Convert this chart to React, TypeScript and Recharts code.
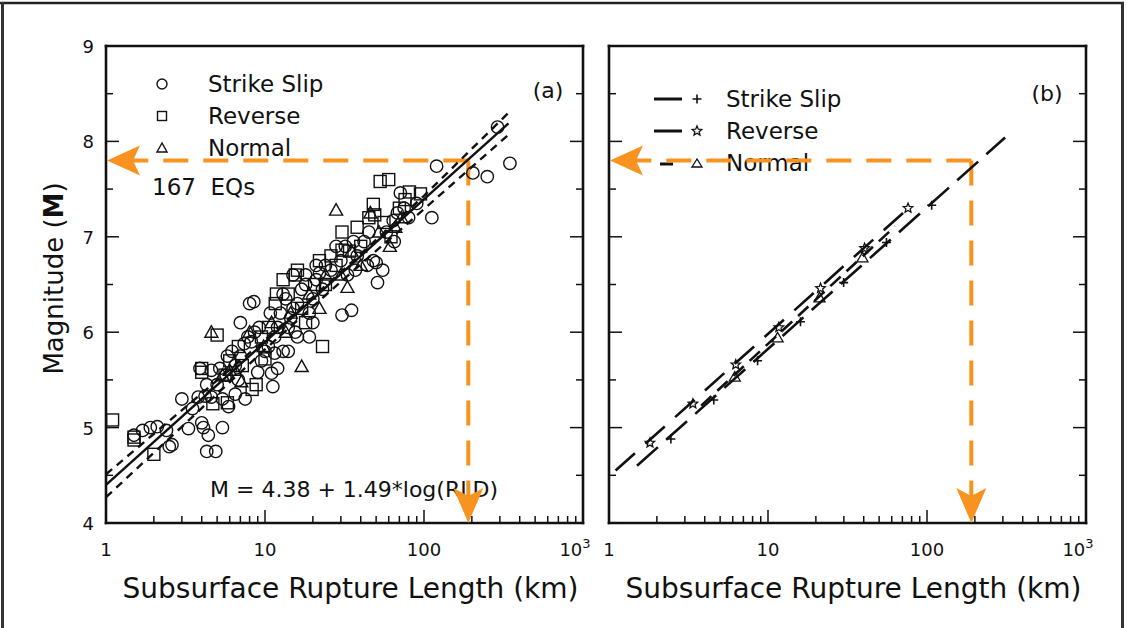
import React from "react";
import { ReferenceDot, ReferenceLine, Scatter, ScatterChart, XAxis, YAxis } from "recharts";

const FONT = "DejaVu Sans";
const INK = "#111";
const ORANGE = "#F7931E";

const xTicks = [
  1, 2, 3, 4, 5, 6, 7, 8, 9, 10, 20, 30, 40, 50, 60, 70, 80, 90, 100, 200, 300, 400, 500, 600,
  700, 800, 900, 1000,
];
const xMajor = [1, 10, 100, 1000];
const yTicks = [4, 4.5, 5, 5.5, 6, 6.5, 7, 7.5, 8, 8.5, 9];
const yMajor = [4, 5, 6, 7, 8, 9];

// panel (a): [rupture length km, magnitude]
const strikeSlip: [number, number][] = [
  [1.5, 4.92], [1.7, 4.97], [1.9, 5.0], [2.1, 5.01], [2.4, 4.97], [2.5, 4.8], [2.6, 4.82],
  [3.0, 5.3], [3.3, 4.99], [3.5, 5.2], [3.8, 5.32], [4.0, 5.05], [4.1, 5.0], [4.4, 4.92],
  [4.3, 4.75], [4.9, 4.75], [5.4, 5.0], [4.2, 5.33], [4.6, 5.32], [5.4, 5.3], [5.9, 5.22],
  [3.9, 5.62], [4.6, 5.6], [5.2, 5.62], [5.7, 5.55], [4.3, 5.45], [5.0, 5.45], [5.8, 5.75],
  [6.2, 5.8], [6.5, 5.65], [7.0, 5.75], [7.4, 5.88], [7.8, 5.95], [8.2, 5.9], [8.6, 6.0],
  [9.0, 5.58], [9.5, 5.7], [10, 5.8], [10.5, 5.85], [11, 5.57], [11.2, 5.43], [11.5, 5.95],
  [12, 6.05], [8.0, 6.3], [8.5, 6.32], [7.0, 6.1], [6.5, 5.35], [7.5, 5.3], [6.8, 5.5],
  [9.2, 6.05], [10.8, 6.2], [11.5, 5.78], [12, 5.62], [12.5, 6.2], [13, 6.4], [13.5, 6.35],
  [14, 6.05], [14.5, 6.15], [15, 6.25], [15.5, 6.0], [16, 6.3], [17, 6.45], [18, 6.5],
  [19, 6.2], [20, 6.35], [21, 6.55], [22, 6.62], [23, 6.45], [13, 5.8], [14, 5.8], [16, 5.95],
  [19, 5.95], [20, 6.1], [24, 6.7], [18, 6.6], [21, 6.7], [15, 6.6], [26, 6.65], [28, 6.9],
  [30, 6.75], [30.5, 6.18], [32, 6.9], [35, 6.23], [36, 6.95], [38, 6.8], [42, 6.95],
  [45, 7.05], [48, 6.75], [50, 6.73], [51, 6.52], [55, 6.65], [33, 6.6], [37, 6.65],
  [44, 6.7], [58, 7.05], [64, 7.17], [68, 7.25], [71, 7.46], [75, 7.3], [80, 7.2], [112, 7.2],
  [120, 7.74], [65, 6.95], [90, 7.35], [203, 7.67], [250, 7.63], [347, 7.77], [290, 8.15],
];
const reverse: [number, number][] = [
  [1.1, 5.08], [1.5, 4.87], [1.5, 4.9], [2.0, 4.72], [4.0, 5.62], [4.0, 5.58], [5.0, 5.97],
  [5.6, 5.55], [5.8, 5.26], [4.7, 5.25], [6.8, 5.85], [8.3, 5.4], [8.8, 5.45], [9.5, 5.95],
  [10.5, 6.05], [11.6, 6.3], [11.8, 6.4], [6.0, 5.7], [7.2, 5.65], [10, 5.72], [13, 6.55],
  [14, 6.4], [15.5, 6.6], [17, 6.25], [18, 6.1], [20.5, 6.5], [23, 5.85], [22, 6.75],
  [16, 6.65], [24, 6.5], [26, 6.8], [30.5, 7.05], [30.5, 6.86], [34, 6.85], [38, 7.1],
  [48, 7.34], [49, 7.23], [53, 7.58], [45, 7.2], [40, 6.9], [56, 7.15], [28, 6.7], [60, 7.6],
  [76, 7.39], [81, 7.47], [70, 7.3], [95, 7.45], [62, 7.0],
];
const normal: [number, number][] = [
  [4.6, 6.0], [5.4, 5.55], [6.0, 5.6], [7.1, 5.48], [8.0, 6.0], [9.8, 5.85], [11, 6.1],
  [6.5, 5.6], [17, 5.64], [14.5, 6.2], [19, 6.4], [22, 6.25], [24, 6.6], [13.5, 6.0],
  [28, 7.28], [33, 6.47], [35, 6.85], [40, 6.7], [46, 7.25], [52, 7.05], [30, 6.6], [61, 6.9],
  [66, 7.1], [72, 7.2],
];
const fitAll: [number, number][] = [[1, 4.4], [340, 8.19]];
const fitUpper: [number, number][] = [[1, 4.51], [10, 5.92], [30, 6.63], [100, 7.43], [340, 8.3]];
const fitLower: [number, number][] = [[1, 4.27], [10, 5.82], [30, 6.53], [100, 7.29], [340, 8.07]];

// panel (b)
const ssLine: [number, number][] = [[1.5, 4.6], [310, 8.04]];
const rvLine: [number, number][] = [[1.1, 4.55], [80, 7.33]];
const nmLine: [number, number][] = [[3.8, 5.23], [63, 7.11]];
const ssMarks: [number, number][] = [
  [2.45, 4.88], [4.56, 5.29], [8.6, 5.7], [16, 6.11], [29.9, 6.52], [55.6, 6.94], [107, 7.33],
];
const rvMarks: [number, number][] = [
  [1.81, 4.84], [3.37, 5.25], [6.27, 5.66], [11.7, 6.05], [21.4, 6.46], [40.5, 6.88], [76, 7.3],
];
const nmMarks: [number, number][] = [[6.18, 5.53], [11.5, 5.94], [21.1, 6.36], [39.3, 6.78]];

const targetLength = 190;
const targetMag = 7.8;

const pts = (arr: [number, number][]) => arr.map(([l, m]) => ({ l, m }));

const circleShape = (p: any) => (
  <circle cx={p.cx} cy={p.cy} r={6.2} fill="none" stroke={INK} strokeWidth={1.4} />
);
const squareShape = (p: any) => (
  <rect x={p.cx - 6} y={p.cy - 6} width={12} height={12} fill="none" stroke={INK} strokeWidth={1.4} />
);
const triangleShape = (p: any) => (
  <polygon
    points={`${p.cx},${p.cy - 6.5} ${p.cx - 6.5},${p.cy + 5} ${p.cx + 6.5},${p.cy + 5}`}
    fill="none"
    stroke={INK}
    strokeWidth={1.4}
  />
);
const plusShape = (p: any) => (
  <path d={`M${p.cx - 4.5},${p.cy}H${p.cx + 4.5}M${p.cx},${p.cy - 4.5}V${p.cy + 4.5}`} stroke={INK} strokeWidth={1.6} />
);
function starPoints(cx: number, cy: number, r: number) {
  const out: string[] = [];
  for (let i = 0; i < 10; i++) {
    const rr = i % 2 === 0 ? r : r * 0.45;
    const a = -Math.PI / 2 + (i * Math.PI) / 5;
    out.push(`${cx + rr * Math.cos(a)},${cy + rr * Math.sin(a)}`);
  }
  return out.join(" ");
}
const starShape = (p: any) => (
  <polygon points={starPoints(p.cx, p.cy, 5)} fill="none" stroke={INK} strokeWidth={1.3} />
);
const smallTriangle = (p: any) => (
  <polygon
    points={`${p.cx},${p.cy - 5.5} ${p.cx - 5.5},${p.cy + 4} ${p.cx + 5.5},${p.cy + 4}`}
    fill="none"
    stroke={INK}
    strokeWidth={1.3}
  />
);
const noShape = () => <g />;

const leftArrow = (p: any) => (
  <polygon
    points={`${p.cx + 1},${p.cy} ${p.cx + 34},${p.cy - 15} ${p.cx + 27},${p.cy} ${p.cx + 34},${p.cy + 15}`}
    fill={ORANGE}
  />
);
const downArrow = (p: any) => (
  <polygon
    points={`${p.cx},${p.cy} ${p.cx - 15},${p.cy - 35} ${p.cx},${p.cy - 27} ${p.cx + 15},${p.cy - 35}`}
    fill={ORANGE}
  />
);

type Side = "bottom" | "top" | "left" | "right";

const tickMark = (side: Side, labels: boolean, major: number[]) => (props: any) => {
  const { x, y, payload } = props;
  const v = Number(payload.value);
  const isMajor = major.some((m) => Math.abs(m - v) < 1e-9);
  const len = isMajor ? 13 : 7;
  const dx = side === "left" ? len : side === "right" ? -len : 0;
  const dy = side === "bottom" ? -len : side === "top" ? len : 0;
  let label: React.ReactNode = null;
  if (labels && isMajor && side === "bottom") {
    label =
      v === 1000 ? (
        <text x={x - 8} y={y + 33} textAnchor="middle" fontFamily={FONT} fontSize={18} fill={INK}>
          10
          <tspan dy={-8} fontSize={13}>
            3
          </tspan>
        </text>
      ) : (
        <text x={x} y={y + 33} textAnchor="middle" fontFamily={FONT} fontSize={18} fill={INK}>
          {v}
        </text>
      );
  }
  if (labels && isMajor && side === "left") {
    label = (
      <text x={x - 12} y={y + 7} textAnchor="end" fontFamily={FONT} fontSize={18} fill={INK}>
        {v}
      </text>
    );
  }
  return (
    <g>
      <line x1={x} y1={y} x2={x + dx} y2={y + dy} stroke={INK} strokeWidth={1.5} />
      {label}
    </g>
  );
};

const axisLine = { stroke: INK, strokeWidth: 2.6, strokeLinecap: "square" as const };

function Panel({ left, isA }: { left: number; isA: boolean }) {
  return (
    <div style={{ position: "absolute", left, top: 0 }}>
      <ScatterChart width={590} height={628} margin={{ top: 45, right: 6, bottom: 65, left: 66 }}>
        <XAxis
          dataKey="l"
          type="number"
          scale="log"
          domain={[1, 1000]}
          allowDataOverflow
          ticks={xTicks}
          interval={0}
          tickSize={0}
          tickMargin={0}
          height={40}
          tickLine={false}
          axisLine={axisLine}
          tick={tickMark("bottom", true, xMajor)}
          label={{
            content: (lp: any) => {
              const vb = lp.viewBox || {};
              return (
                <text
                  x={vb.x + vb.width / 2 + 6}
                  y={vb.y + 75}
                  textAnchor="middle"
                  fontFamily={FONT}
                  fontSize={28}
                  fill={INK}
                >
                  Subsurface Rupture Length (km)
                </text>
              );
            },
          }}
        />
        <XAxis
          xAxisId="top"
          orientation="top"
          type="number"
          scale="log"
          domain={[1, 1000]}
          allowDataOverflow
          ticks={xTicks}
          interval={0}
          tickSize={0}
          tickMargin={0}
          height={1}
          tickLine={false}
          axisLine={axisLine}
          tick={tickMark("top", false, xMajor)}
        />
        <YAxis
          dataKey="m"
          type="number"
          domain={[4, 9]}
          allowDataOverflow
          ticks={yTicks}
          interval={0}
          tickSize={0}
          tickMargin={0}
          width={40}
          tickLine={false}
          axisLine={axisLine}
          tick={tickMark("left", isA, yMajor)}
          label={
            isA
              ? {
                  content: (lp: any) => {
                    const vb = lp.viewBox || {};
                    const cy = vb.y + vb.height / 2 - 6;
                    return (
                      <text
                        transform={`translate(${vb.x - 3},${cy}) rotate(-90)`}
                        textAnchor="middle"
                        fontFamily={FONT}
                        fontSize={26}
                        fill={INK}
                      >
                        Magnitude (<tspan fontWeight="bold">M</tspan>)
                      </text>
                    );
                  },
                }
              : undefined
          }
        />
        <YAxis
          yAxisId="right"
          orientation="right"
          type="number"
          domain={[4, 9]}
          allowDataOverflow
          ticks={yTicks}
          interval={0}
          tickSize={0}
          tickMargin={0}
          width={1}
          tickLine={false}
          axisLine={axisLine}
          tick={tickMark("right", false, yMajor)}
        />

        {isA && <Scatter data={pts(strikeSlip)} shape={circleShape} isAnimationActive={false} />}
        {isA && <Scatter data={pts(reverse)} shape={squareShape} isAnimationActive={false} />}
        {isA && <Scatter data={pts(normal)} shape={triangleShape} isAnimationActive={false} />}
        {isA && (
          <Scatter
            data={pts(fitAll)}
            shape={noShape}
            line={{ stroke: INK, strokeWidth: 2.4 }}
            isAnimationActive={false}
          />
        )}
        {isA && (
          <Scatter
            data={pts(fitUpper)}
            shape={noShape}
            line={{ stroke: INK, strokeWidth: 2.4, strokeDasharray: "8 6" }}
            isAnimationActive={false}
          />
        )}
        {isA && (
          <Scatter
            data={pts(fitLower)}
            shape={noShape}
            line={{ stroke: INK, strokeWidth: 2.4, strokeDasharray: "8 6" }}
            isAnimationActive={false}
          />
        )}

        {!isA && (
          <Scatter
            data={pts(ssLine)}
            shape={noShape}
            line={{ stroke: INK, strokeWidth: 2.6, strokeDasharray: "28 11" }}
            isAnimationActive={false}
          />
        )}
        {!isA && (
          <Scatter
            data={pts(rvLine)}
            shape={noShape}
            line={{ stroke: INK, strokeWidth: 2.6, strokeDasharray: "26 14" }}
            isAnimationActive={false}
          />
        )}
        {!isA && (
          <Scatter
            data={pts(nmLine)}
            shape={noShape}
            line={{ stroke: INK, strokeWidth: 2.6, strokeDasharray: "14 8" }}
            isAnimationActive={false}
          />
        )}
        {!isA && <Scatter data={pts(ssMarks)} shape={plusShape} isAnimationActive={false} />}
        {!isA && <Scatter data={pts(rvMarks)} shape={starShape} isAnimationActive={false} />}
        {!isA && <Scatter data={pts(nmMarks)} shape={smallTriangle} isAnimationActive={false} />}

        <ReferenceLine
          segment={[
            { x: targetLength, y: targetMag },
            { x: 1.25, y: targetMag },
          ]}
          stroke={ORANGE}
          strokeWidth={4}
          strokeDasharray="25 15"
          ifOverflow="visible"
        />
        <ReferenceLine
          segment={[
            { x: targetLength, y: targetMag },
            { x: targetLength, y: 4.25 },
          ]}
          stroke={ORANGE}
          strokeWidth={4}
          strokeDasharray="25 15"
          ifOverflow="visible"
        />
        <ReferenceDot x={1} y={targetMag} shape={leftArrow} ifOverflow="visible" />
        <ReferenceDot x={targetLength} y={4} shape={downArrow} ifOverflow="visible" />
      </ScatterChart>
    </div>
  );
}

function Annotations() {
  const txt = { fontFamily: FONT, fill: INK } as const;
  return (
    <svg width={1127} height={628} style={{ position: "absolute", left: 0, top: 0 }}>
      <line x1={0} y1={3} x2={1124} y2={3} stroke="#222" strokeWidth={2.5} />
      <line x1={2.5} y1={2} x2={2.5} y2={628} stroke="#333" strokeWidth={3} />
      <line x1={1122.5} y1={2} x2={1122.5} y2={628} stroke="#333" strokeWidth={3} />

      <circle cx={162} cy={84} r={5} fill="none" stroke={INK} strokeWidth={1.4} />
      <rect x={157.5} y={111.5} width={9} height={9} fill="none" stroke={INK} strokeWidth={1.4} />
      <polygon points="162,143 157,152 167,152" fill="none" stroke={INK} strokeWidth={1.4} />
      <text x={208} y={92} fontSize={23} {...txt}>Strike Slip</text>
      <text x={208} y={124} fontSize={23} {...txt}>Reverse</text>
      <text x={208} y={156} fontSize={23} {...txt}>Normal</text>
      <text x={548} y={98} fontSize={22} textAnchor="middle" {...txt}>(a)</text>
      <text x={152} y={195} fontSize={23} style={{ whiteSpace: "pre" }} {...txt}>
        {"167  EQs"}
      </text>
      <text x={210} y={497} fontSize={22} style={{ whiteSpace: "pre" }} {...txt}>
        {"M = 4.38 + 1.49*log(RLD)"}
      </text>

      <line x1={654} y1={99} x2={682} y2={99} stroke={INK} strokeWidth={3} />
      <path d="M692.5,99H701.5M697,94.5V103.5" stroke={INK} strokeWidth={1.6} />
      <line x1={654} y1={131} x2={682} y2={131} stroke={INK} strokeWidth={3} />
      <polygon points={starPoints(697, 131, 5)} fill="none" stroke={INK} strokeWidth={1.3} />
      <line x1={660} y1={164} x2={673} y2={164} stroke={INK} strokeWidth={3} />
      <polygon points="697,159 692,167 702,167" fill="none" stroke={INK} strokeWidth={1.3} />
      <text x={726} y={107} fontSize={23} {...txt}>Strike Slip</text>
      <text x={726} y={139} fontSize={23} {...txt}>Reverse</text>
      <text x={726} y={171} fontSize={23} {...txt}>Normal</text>
      <text x={1047} y={101} fontSize={22} textAnchor="middle" {...txt}>(b)</text>
    </svg>
  );
}

export default function App() {
  return (
    <div
      style={{
        position: "absolute",
        left: 0,
        top: 0,
        width: 1127,
        height: 628,
        background: "#fff",
        overflow: "hidden",
      }}
    >
      <Annotations />
      <Panel left={0} isA />
      <Panel left={503} isA={false} />
    </div>
  );
}
